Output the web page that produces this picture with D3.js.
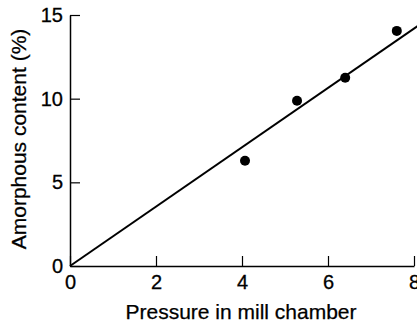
<!DOCTYPE html>
<html><head><meta charset="utf-8">
<script src="https://cdn.jsdelivr.net/npm/d3@7"></script>
<style>
html,body{margin:0;padding:0;background:#fff;}
svg{display:block;font-family:"Liberation Sans",Arial,sans-serif;}
</style></head>
<body>
<svg id="c" width="417" height="322"></svg>
<script>
const pressure = [4.07, 5.28, 6.40, 7.60];
const amorphous = [6.29, 9.88, 11.25, 14.05];
const fitX = [0, 8.1];
const fitY = [0, 14.37];
const xTicks = [0, 2, 4, 6, 8];
const yTicks = [0, 5, 10, 15];
const xTitle = "Pressure in mill chamber";
const yTitle = "Amorphous content (%)";

const svg = d3.select("#c");
const x = d3.scaleLinear().domain([0, 8]).range([70, 414]);
const y = d3.scaleLinear().domain([0, 15]).range([266, 15]);

const gx = svg.append("g").attr("transform", `translate(0,${y(0)})`)
  .call(d3.axisBottom(x).tickValues(xTicks).tickFormat(d3.format("d"))
    .tickSizeInner(-10).tickSizeOuter(0).tickPadding(9));
const gy = svg.append("g").attr("transform", `translate(${x(0)},0)`)
  .call(d3.axisLeft(y).tickValues(yTicks).tickFormat(d3.format("d"))
    .tickSizeInner(-10).tickSizeOuter(0).tickPadding(7));
[gx, gy].forEach(g => {
  g.select(".domain").attr("stroke", "#000").attr("stroke-width", 1.5);
  g.selectAll(".tick line").attr("stroke", "#000").attr("stroke-width", 1.2);
  g.selectAll(".tick text").attr("fill", "#000").attr("font-size", 20)
    .attr("stroke", "#000").attr("stroke-width", 0.3)
    .attr("font-family", "Liberation Sans, Arial, sans-serif");
});

const line = d3.line().x((d, i) => x(fitX[i])).y((d, i) => y(fitY[i]));
svg.append("path").datum(fitX).attr("d", line)
  .attr("fill", "none").attr("stroke", "#000").attr("stroke-width", 2);

svg.selectAll("circle.pt").data(pressure).join("circle").attr("class", "pt")
  .attr("cx", d => x(d)).attr("cy", (d, i) => y(amorphous[i]))
  .attr("r", 5).attr("fill", "#000");

svg.append("text").attr("x", 241).attr("y", 319).attr("text-anchor", "middle")
  .attr("font-size", 21).attr("fill", "#000").attr("stroke", "#000").attr("stroke-width", 0.25)
  .text(xTitle);
svg.append("text").attr("transform", "translate(26,139) rotate(-90)")
  .attr("text-anchor", "middle").attr("font-size", 21).attr("fill", "#000")
  .attr("stroke", "#000").attr("stroke-width", 0.25).text(yTitle);
</script>
</body></html>
